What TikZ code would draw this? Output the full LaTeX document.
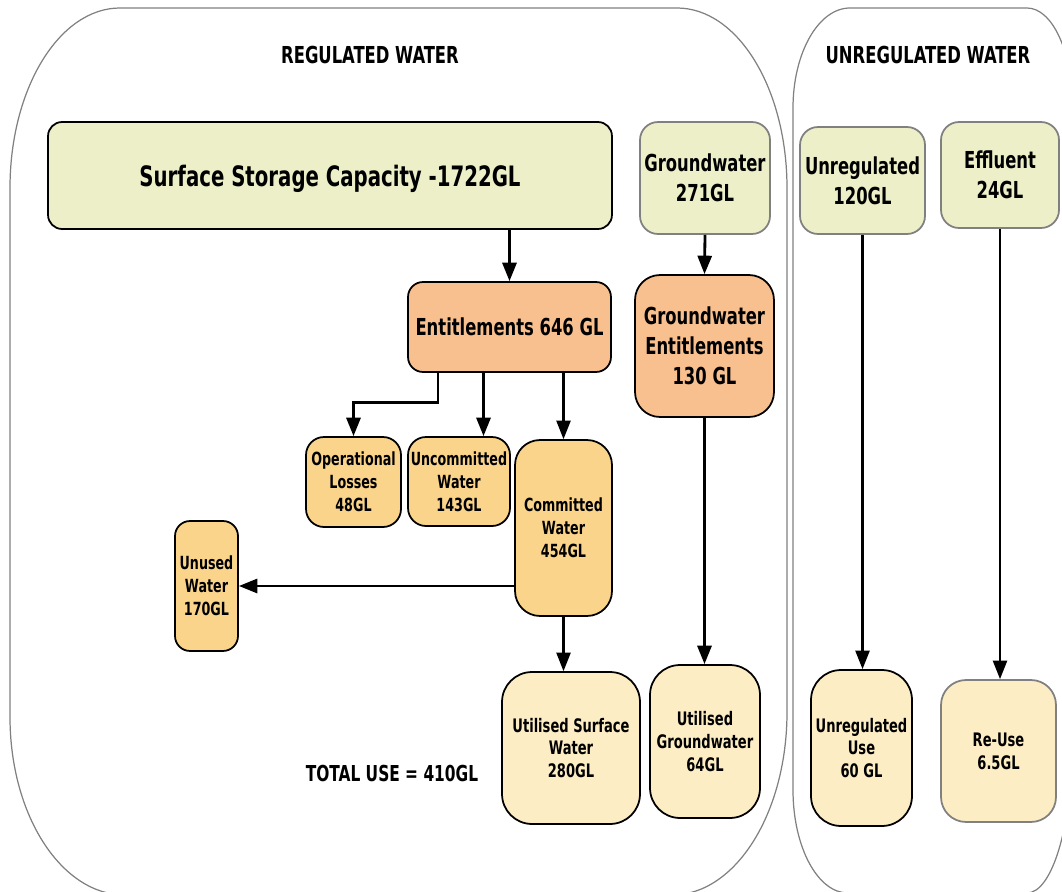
\documentclass[tikz,border=0pt]{standalone}
\usepackage{fontspec}
\setmainfont{DejaVu Sans Condensed}[FakeStretch=0.78]
\usetikzlibrary{arrows.meta,positioning}

\definecolor{srcgreen}{HTML}{EDEFC8}
\definecolor{entorange}{HTML}{F9C08F}
\definecolor{splityellow}{HTML}{F9D48A}
\definecolor{usecream}{HTML}{FCEDC5}

\tikzset{
  box/.style={draw=black, line width=1pt, align=center, inner sep=0pt},
  srcbox/.style={box, draw=black!50, fill=srcgreen, rounded corners=0.36cm},
  entbox/.style={box, fill=entorange, rounded corners=0.3cm},
  splitbox/.style={box, fill=splityellow, rounded corners=0.36cm},
  usebox/.style={box, fill=usecream, rounded corners=0.6cm},
  bigtxt/.style={font=\fontsize{13.3}{17}\selectfont\bfseries},
  smalltxt/.style={font=\fontsize{10.3}{13}\selectfont\bfseries},
  usetxt/.style={font=\fontsize{10.6}{13}\selectfont\bfseries},
  flow/.style={-{Triangle[length=10.5pt 0 0,width=8pt 0 0]}, line width=1.6pt},
  thinflow/.style={flow, line width=1.2pt},
  region/.style={draw=black!50, line width=0.7pt}
}

\begin{document}
\begin{tikzpicture}[x=0.02cm, y=-0.02cm]
        \useasboundingbox (0,0) rectangle (1062,892);
        \draw[region] (10,717) -- (10,188)
          arc[start angle=180, end angle=270, x radius=110, y radius=180] -- (677,8)
          arc[start angle=270, end angle=360, x radius=110, y radius=180] -- (787,712)
          arc[start angle=0, end angle=90, x radius=115, y radius=183] -- (125,895)
          arc[start angle=90, end angle=180, x radius=115, y radius=178] -- cycle;
        \draw[region] (793,790) -- (793,108)
          arc[start angle=180, end angle=270, x radius=57, y radius=100] -- (1027,8)
          arc[start angle=270, end angle=360, x radius=45, y radius=95] -- (1072,745)
          arc[start angle=0, end angle=90, x radius=45, y radius=148] -- (848,893)
          arc[start angle=90, end angle=180, x radius=55, y radius=103] -- cycle;
        \node[bigtxt] (regtitle) at (370,55) {REGULATED WATER};
        \node[bigtxt] (unregtitle) at (928,55) {UNREGULATED WATER};

        \node[srcbox, draw=black, rounded corners=0.28cm, minimum width=11.28cm, minimum height=2.14cm, text depth=0pt,
          font=\fontsize{16}{19}\selectfont\bfseries] (surface) at (330,175.5) {Surface Storage Capacity -1722GL};
        \node[srcbox, bigtxt, minimum width=2.6cm, minimum height=2.24cm] (gw) at (705,178) {Groundwater\\271GL};
        \node[srcbox, bigtxt, minimum width=2.5cm, minimum height=2.14cm] (unreg) at (862.5,180.5) {Unregulated\\120GL};
        \node[srcbox, bigtxt, minimum width=2.36cm, minimum height=2.12cm] (effluent) at (1000,175) {Effluent\\24GL};

        \node[entbox, bigtxt, minimum width=4.06cm, minimum height=1.8cm] (ent) at (509.5,327) {Entitlements 646 GL};
        \node[entbox, bigtxt, rounded corners=0.5cm, minimum width=2.78cm, minimum height=2.84cm] (gwent) at (704.5,346)
          {Groundwater\\Entitlements\\130 GL};

        \node[splitbox, smalltxt, minimum width=1.9cm, minimum height=1.8cm] (losses) at (353.5,482) {Operational\\Losses\\48GL};
        \node[splitbox, smalltxt, minimum width=2.04cm, minimum height=1.78cm] (uncommitted) at (459,481.5) {Uncommitted\\Water\\143GL};
        \node[splitbox, smalltxt, rounded corners=0.5cm, minimum width=1.94cm, minimum height=3.52cm] (committed) at (563.5,528)
          {Committed\\Water\\454GL};
        \node[splitbox, smalltxt, rounded corners=0.3cm, minimum width=1.26cm, minimum height=2.6cm] (unused) at (206.5,586)
          {Unused\\Water\\170GL};

        \node[usebox, usetxt, minimum width=2.76cm, minimum height=3.04cm] (usesurf) at (571,748) {Utilised Surface\\Water\\280GL};
        \node[usebox, usetxt, minimum width=2.2cm, minimum height=3.06cm] (usegw) at (705,741.5) {Utilised\\Groundwater\\64GL};
        \node[usebox, usetxt, minimum width=2.02cm, minimum height=3.12cm] (useunreg) at (861.5,748) {Unregulated\\Use\\60 GL};
        \node[usebox, usetxt, draw=black!50, rounded corners=0.5cm, minimum width=2.3cm, minimum height=2.84cm] (reuse) at (998.5,751)
          {Re-Use\\6.5GL};

        \node[font=\fontsize{12.5}{15}\selectfont\bfseries] (total) at (392,773) {TOTAL USE = 410GL};

        \draw[flow] (ent.north |- surface.south) -- (ent.north);
        \draw[flow] (gw.south) -- (gwent.north);
        \draw[flow] ([xshift=-1.43cm]ent.south) -- ++(0,30) -| (losses.north);
        \draw[flow] ([xshift=-0.52cm]ent.south) -- ([xshift=-0.52cm]ent.south |- uncommitted.north);
        \draw[thinflow] (committed.north |- ent.south) -- (committed.north);
        \draw[flow] (committed.west |- unused.east) -- (unused.east);
        \draw[thinflow] (committed.south) -- (committed.south |- usesurf.north);
        \draw[flow] (gwent.south) -- (gwent.south |- usegw.north);
        \draw[thinflow] (unreg.south) -- (unreg.south |- useunreg.north);
        \draw[thinflow] (effluent.south) -- (effluent.south |- reuse.north);
\end{tikzpicture}
\end{document}
